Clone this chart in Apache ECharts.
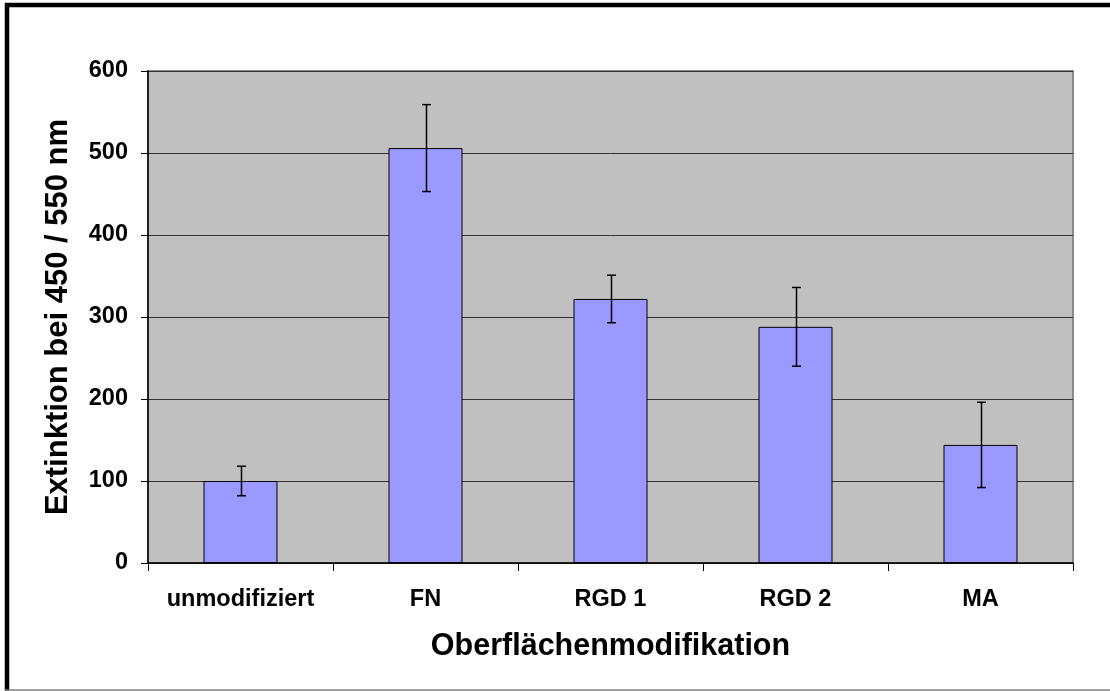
<!DOCTYPE html>
<html lang="de">
  <head>
    <meta charset="UTF-8" />
    <title>Extinktion</title>
    <script src="https://cdn.jsdelivr.net/npm/echarts@6/dist/echarts.min.js"></script>
    <style>
      html, body { margin: 0; padding: 0; background: #fff; }
    </style>
  </head>
  <body>
    <div id="main" style="width: 1110px; height: 691px"></div>

    <script>
      // Daten
      const categories = ['unmodifiziert', 'FN', 'RGD 1', 'RGD 2', 'MA']
      const values = [100, 506, 322, 288, 144]
      const errors = [18, 53, 29, 48, 52]
      const yTicks = { min: 0, max: 600, interval: 100 }

      const font = 'Liberation Sans, Arial, sans-serif'

      const chart = echarts.init(document.getElementById('main'))

      const options = {
        animation: false,
        backgroundColor: '#fff',
        grid: {
          left: 148,
          right: 37,
          top: 71,
          bottom: 128,
          show: true,
          backgroundColor: '#c0c0c0',
          borderColor: '#8a8a8a',
          borderWidth: 2,
        },
        xAxis: {
          type: 'category',
          data: categories,
          boundaryGap: true,
          name: 'Oberflächenmodifikation',
          nameLocation: 'middle',
          nameGap: 68,
          nameTextStyle: { fontFamily: font, fontWeight: 'bold', fontSize: 30.5, color: '#000' },
          axisLine: { lineStyle: { color: '#000', width: 1.5 } },
          axisTick: { show: true, interval: 0, length: 8, lineStyle: { color: '#000', width: 1 } },
          axisLabel: { interval: 0, fontFamily: font, fontWeight: 'bold', fontSize: 23.5, color: '#000', margin: 25 },
          splitLine: { show: false },
        },
        yAxis: {
          type: 'value',
          min: yTicks.min,
          max: yTicks.max,
          interval: yTicks.interval,
          name: 'Extinktion bei 450 / 550 nm',
          nameLocation: 'middle',
          nameGap: 74,
          nameTextStyle: { fontFamily: font, fontWeight: 'bold', fontSize: 31, color: '#000' },
          axisLine: { show: true, lineStyle: { color: '#000', width: 1.5 } },
          axisTick: { show: true, length: 7, lineStyle: { color: '#000', width: 1 } },
          axisLabel: { fontFamily: font, fontWeight: 'bold', fontSize: 23.5, color: '#000', margin: 20 },
          splitLine: { show: true, lineStyle: { color: '#333', width: 1 } },
        },
        series: [
          {
            type: 'bar',
            data: values,
            barWidth: '40%',
            itemStyle: { color: '#9999ff', borderColor: '#000', borderWidth: 1 },
            z: 2,
          },
          {
            // Fehlerbalken
            type: 'custom',
            z: 3,
            data: values.map((v, i) => [i, v - errors[i], v + errors[i]]),
            renderItem: function (params, api) {
              const low = api.coord([api.value(0), api.value(1)])
              const high = api.coord([api.value(0), api.value(2)])
              const x = Math.round(low[0]) + 0.5
              const cap = 4.5
              const style = { stroke: '#000', lineWidth: 1.5 }
              return {
                type: 'group',
                children: [
                  { type: 'line', shape: { x1: x, y1: low[1], x2: x, y2: high[1] }, style },
                  { type: 'line', shape: { x1: x - cap, y1: low[1], x2: x + cap, y2: low[1] }, style },
                  { type: 'line', shape: { x1: x - cap, y1: high[1], x2: x + cap, y2: high[1] }, style },
                ],
              }
            },
          },
        ],
        graphic: [
          // Rahmen
          { type: 'line', shape: { x1: 7, y1: 3, x2: 7, y2: 691 }, style: { stroke: '#000', lineWidth: 4.5 } },
          { type: 'line', shape: { x1: 5, y1: 5, x2: 1110, y2: 5 }, style: { stroke: '#000', lineWidth: 4.5 } },
          { type: 'line', shape: { x1: 5, y1: 690, x2: 1110, y2: 690 }, style: { stroke: '#808080', lineWidth: 1.5 } },
        ],
      }

      chart.setOption(options)
    </script>
  </body>
</html>
